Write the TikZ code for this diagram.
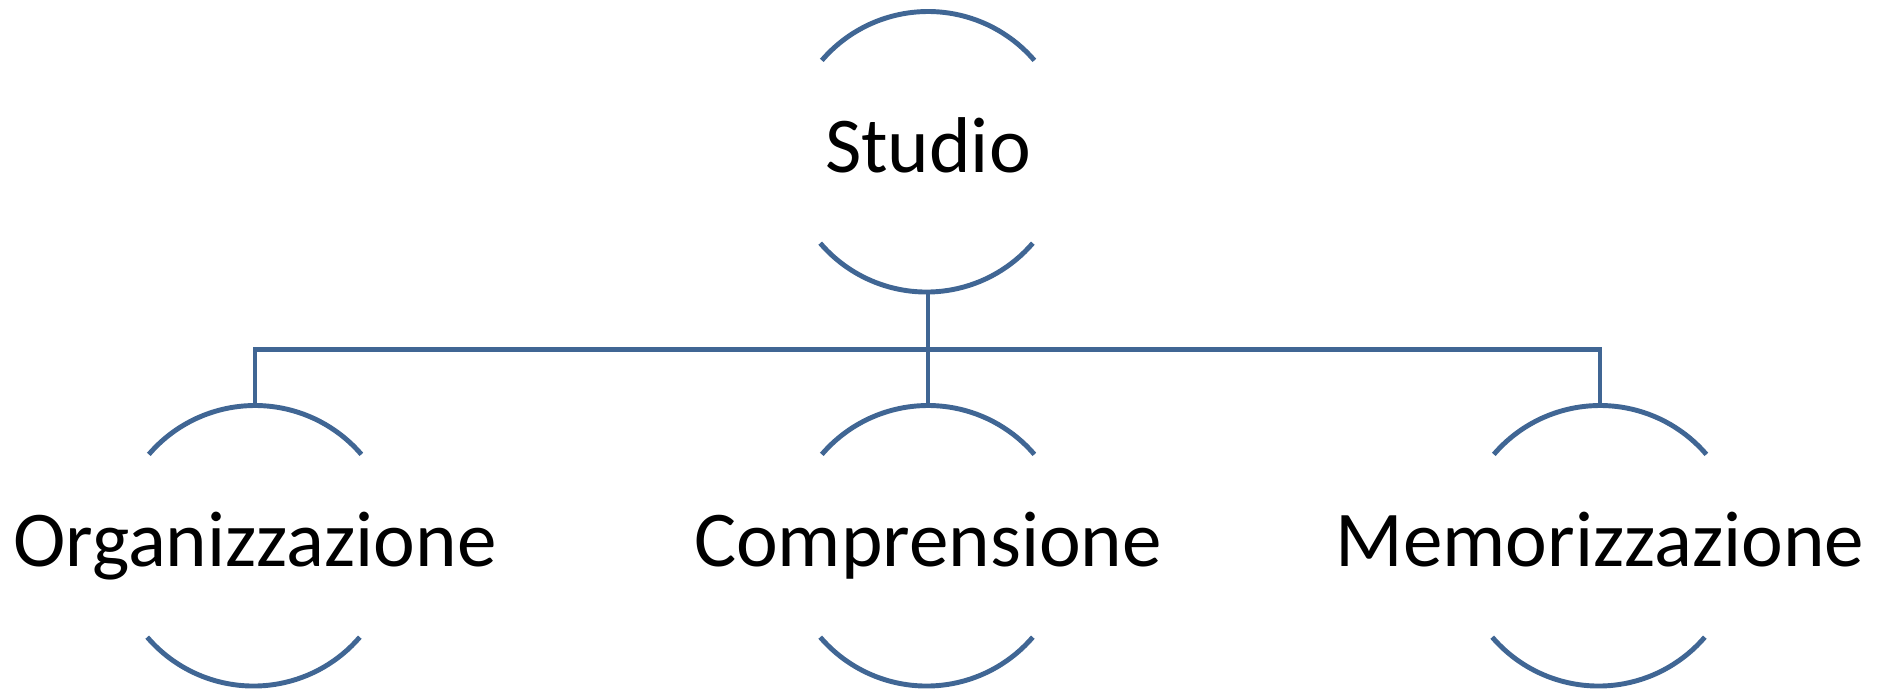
\documentclass[tikz,border=0pt]{standalone}
\usepackage{fontspec}
\setmainfont{Carlito}
\usetikzlibrary{positioning}
\definecolor{RingBlue}{RGB}{64,102,148}

\begin{document}
\begin{tikzpicture}[
  ring/.style={circle,minimum size=2.8cm,inner sep=0pt},
  lbl/.style={font=\fontsize{22.5pt}{27pt}\selectfont,text height=0.64em,text depth=0.1em,inner sep=0pt,yshift=-1mm},
  link/.style={RingBlue,line width=1.4pt}]
\useasboundingbox (0,0) rectangle (18.87,-6.89);
% rings
\node[ring] (studio) at (9.28,-1.527) {};
\node[ring] (org) at (2.55,-5.467) {};
\node[ring] (comp) at (9.28,-5.467) {};
\node[ring] (mem) at (16.0,-5.467) {};
\foreach \n in {studio,org,comp,mem} {
  \draw[link] (\n.139.4) arc[start angle=139.4,end angle=40.6,radius=1.4];
  \draw[link] (\n.220.6) arc[start angle=220.6,end angle=319.4,radius=1.4];
}
% labels
\node[lbl] at (studio) {Studio};
\node[lbl] at (org) {Organizzazione};
\node[lbl] at (comp) {Comprensione};
\node[lbl] at (mem) {Memorizzazione};
% tree
\draw[link] (studio.south) -- ++(0,-0.563) coordinate (fork);
\draw[link] (org.north) |- (fork) -| (mem.north);
\draw[link] (fork) -- (comp.north);
\end{tikzpicture}
\end{document}
